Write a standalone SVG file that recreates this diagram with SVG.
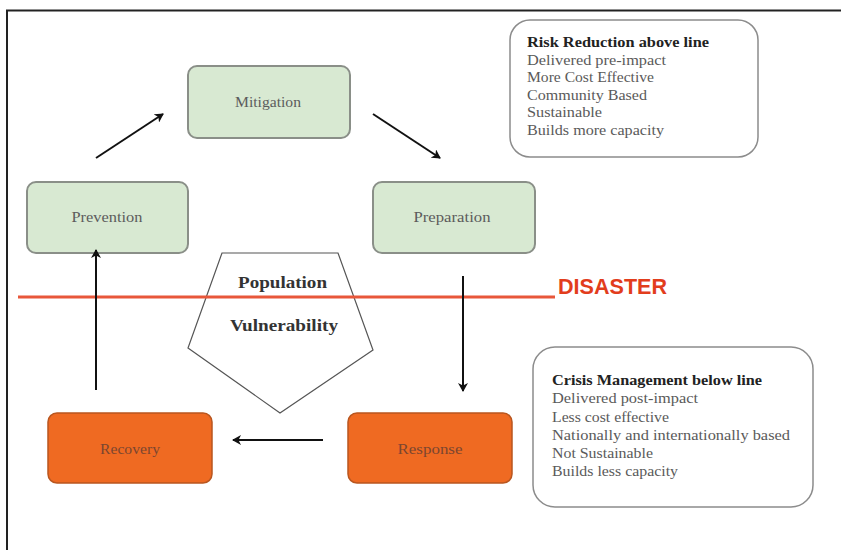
<svg xmlns="http://www.w3.org/2000/svg" width="841" height="550" viewBox="0 0 841 550">
<style>
.g rect{fill:#d8e9d2;stroke:#8a8f88;stroke-width:2}
.o rect{fill:#ef6a22;stroke:#b9561f;stroke-width:1.5}
.bt{font-family:"Liberation Serif",serif;font-size:15px;text-anchor:middle}
.gt{fill:#5c5c5c}
.ot{fill:#7b4630}
.note rect{fill:#fff;stroke:#8c8c8c;stroke-width:1.5}
.nt{font-family:"Liberation Serif",serif;font-size:15px;fill:#5a5a5a}
.nh{font-weight:bold;fill:#222}
.pv{font-family:"Liberation Serif",serif;font-weight:bold;font-size:17px;fill:#333}
.arr line{stroke:#111;stroke-width:2;marker-end:url(#ah)}
</style>
<defs>
<marker id="ah" markerWidth="10" markerHeight="10" refX="8" refY="5" orient="auto" markerUnits="userSpaceOnUse">
<path d="M0,0 L9,5 L0,10 L2.5,5 Z" fill="#111"/>
</marker>
</defs>
<rect width="841" height="550" fill="#fff"/>
<path d="M7,550 V10.5 H841" fill="none" stroke="#222" stroke-width="2"/>

<g id="mitigation" class="g"><rect x="188" y="66" width="162" height="72" rx="9"/><text class="bt gt" x="268" y="107" textLength="66" lengthAdjust="spacingAndGlyphs">Mitigation</text></g>
<g id="prevention" class="g"><rect x="27" y="182" width="161" height="71" rx="9"/><text class="bt gt" x="107" y="222" textLength="71" lengthAdjust="spacingAndGlyphs">Prevention</text></g>
<g id="preparation" class="g"><rect x="373" y="182" width="162" height="71" rx="9"/><text class="bt gt" x="452" y="222" textLength="77" lengthAdjust="spacingAndGlyphs">Preparation</text></g>
<g id="recovery" class="o"><rect x="48" y="413" width="164" height="70" rx="9"/><text class="bt ot" x="130" y="454" textLength="60" lengthAdjust="spacingAndGlyphs">Recovery</text></g>
<g id="response" class="o"><rect x="348" y="413" width="164" height="70" rx="9"/><text class="bt ot" x="430" y="454" textLength="65" lengthAdjust="spacingAndGlyphs">Response</text></g>

<g id="vulnerability">
<polygon points="222,253 338,253 373,350 280,413 188,348" fill="#fff" stroke="#555" stroke-width="1.2"/>
<text class="pv" x="238" y="288" textLength="89" lengthAdjust="spacingAndGlyphs">Population</text>
<text class="pv" x="230" y="331" textLength="108" lengthAdjust="spacingAndGlyphs">Vulnerability</text>
</g>

<g id="disaster">
<line x1="18" y1="297" x2="555" y2="297" stroke="#e8573a" stroke-width="3"/>
<text x="558" y="294" font-family="Liberation Sans,sans-serif" font-weight="bold" font-size="22" fill="#e23d1c" textLength="109" lengthAdjust="spacingAndGlyphs">DISASTER</text>
</g>

<g id="risk-reduction" class="note">
<rect x="510" y="20" width="248" height="137" rx="20"/>
<text class="nt nh" x="527" y="47" textLength="182" lengthAdjust="spacingAndGlyphs">Risk Reduction above line</text>
<text class="nt" x="527" y="65" textLength="139" lengthAdjust="spacingAndGlyphs">Delivered pre-impact</text>
<text class="nt" x="527" y="82" textLength="127" lengthAdjust="spacingAndGlyphs">More Cost Effective</text>
<text class="nt" x="527" y="100" textLength="120" lengthAdjust="spacingAndGlyphs">Community Based</text>
<text class="nt" x="527" y="117" textLength="75" lengthAdjust="spacingAndGlyphs">Sustainable</text>
<text class="nt" x="527" y="135" textLength="137" lengthAdjust="spacingAndGlyphs">Builds more capacity</text>
</g>

<g id="crisis-management" class="note">
<rect x="533" y="347" width="280" height="160" rx="22"/>
<text class="nt nh" x="552" y="385" textLength="210" lengthAdjust="spacingAndGlyphs">Crisis Management below line</text>
<text class="nt" x="552" y="403" textLength="146" lengthAdjust="spacingAndGlyphs">Delivered post-impact</text>
<text class="nt" x="552" y="422" textLength="117" lengthAdjust="spacingAndGlyphs">Less cost effective</text>
<text class="nt" x="552" y="440" textLength="238" lengthAdjust="spacingAndGlyphs">Nationally and internationally based</text>
<text class="nt" x="552" y="458" textLength="101" lengthAdjust="spacingAndGlyphs">Not Sustainable</text>
<text class="nt" x="552" y="476" textLength="126" lengthAdjust="spacingAndGlyphs">Builds less capacity</text>
</g>

<g id="connectors" class="arr">
<line x1="96" y1="158" x2="163" y2="114"/>
<line x1="373" y1="114" x2="440" y2="158"/>
<line x1="463" y1="276" x2="463" y2="391"/>
<line x1="323" y1="440" x2="233" y2="440"/>
<line x1="96" y1="390" x2="96" y2="250"/>
</g>
</svg>
